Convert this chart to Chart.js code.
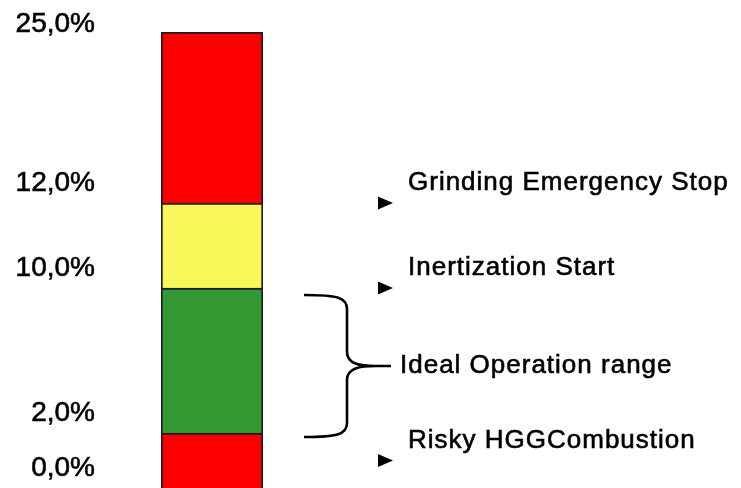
<!DOCTYPE html>
<html>
<head>
<meta charset="utf-8">
<script src="https://cdn.jsdelivr.net/npm/chart.js@4/dist/chart.umd.min.js"></script>
<style>
  html, body { margin: 0; padding: 0; background: #ffffff; }
  canvas { display: block; }
</style>
</head>
<body>
<canvas id="chart" width="741" height="488"></canvas>
<script>
// O2 concentration thresholds (%) bounding each operating zone
const thresholds = [0, 2, 10, 12, 25];
const tickLabels = ['0,0%', '2,0%', '10,0%', '12,0%', '25,0%'];
const zoneNames = ['Risky HGG combustion', 'Ideal operation', 'Inertization', 'Grinding emergency stop'];
const zoneColors = ['#ff0000', '#339933', '#f8f85a', '#ff0000'];

// Right-hand annotations: text and the level their arrow points at
const markerTexts = ['Grinding Emergency Stop', 'Inertization Start', 'Risky HGGCombustion'];
const markerLevels = [12, 10, 1];
const rangeText = 'Ideal Operation range';
const rangeLevels = [2, 10];

// Schematic (non-proportional) vertical scale: each threshold gets a fixed
// share of the column height, values in between are interpolated linearly.
const stopShares = [0, 0.1206, 0.4386, 0.625, 1];

class SchematicScale extends Chart.LinearScale {
  static id = 'schematic';
  static defaults = Chart.LinearScale.defaults;
  buildTicks() {
    return thresholds.map(v => ({ value: v }));
  }
  _shareOf(v) {
    const n = thresholds.length;
    if (v <= thresholds[0]) return stopShares[0];
    for (let i = 1; i < n; i++) {
      if (v <= thresholds[i]) {
        const t = (v - thresholds[i - 1]) / (thresholds[i] - thresholds[i - 1]);
        return stopShares[i - 1] + t * (stopShares[i] - stopShares[i - 1]);
      }
    }
    return stopShares[n - 1];
  }
  getPixelForValue(v) {
    if (v === null || v === undefined || isNaN(v)) return NaN;
    return this.getPixelForDecimal(this._shareOf(v));
  }
  getValueForPixel(p) {
    const d = this.getDecimalForPixel(p);
    for (let i = 1; i < stopShares.length; i++) {
      if (d <= stopShares[i]) {
        const t = (d - stopShares[i - 1]) / (stopShares[i] - stopShares[i - 1]);
        return thresholds[i - 1] + t * (thresholds[i] - thresholds[i - 1]);
      }
    }
    return thresholds[thresholds.length - 1];
  }
}
Chart.register(SchematicScale);

const FONT = '"Liberation Sans", Arial, sans-serif';

// Filled text with a hairline outline so the glyphs read a little heavier
function heavyText(ctx, text, x, y) {
  ctx.fillText(text, x, y);
  ctx.strokeText(text, x, y);
}

// Tick labels, arrows, annotation texts and the brace for the ideal range
const annotations = {
  id: 'annotations',
  afterDraw(chart) {
    const ctx = chart.ctx;
    const y = chart.scales.y;
    const area = chart.chartArea;
    ctx.save();
    ctx.fillStyle = '#000000';
    ctx.strokeStyle = '#000000';
    ctx.lineWidth = 0.6;

    // level labels left of the column
    ctx.font = '28px ' + FONT;
    ctx.textAlign = 'right';
    ctx.textBaseline = 'alphabetic';
    thresholds.forEach((v, i) => {
      const base = Math.max(y.getPixelForValue(v) - 12, area.top);
      heavyText(ctx, tickLabels[i], 95, base);
    });

    // arrows and their texts
    ctx.font = '26px ' + FONT;
    ctx.textAlign = 'left';
    if ('letterSpacing' in ctx) ctx.letterSpacing = '1px';
    markerLevels.forEach((v, i) => {
      const c = y.getPixelForValue(v);
      ctx.beginPath();
      ctx.moveTo(378, c - 6.5);
      ctx.lineTo(378, c + 6.5);
      ctx.lineTo(393, c);
      ctx.closePath();
      ctx.fill();
      heavyText(ctx, markerTexts[i], 408, c - 13);
    });

    // brace spanning the ideal operation range
    const yTop = y.getPixelForValue(rangeLevels[1]) + 7;
    const yBot = y.getPixelForValue(rangeLevels[0]) + 4;
    const yMid = (yTop + yBot) / 2;
    const xArm = 304, xV = 347, xTip = 376, xTail = 391;
    ctx.lineWidth = 2.6;
    ctx.lineCap = 'butt';
    ctx.lineJoin = 'round';
    ctx.beginPath();
    ctx.moveTo(xArm, yTop);
    ctx.bezierCurveTo(336, yTop, xV, yTop + 2, xV, yTop + 14);
    ctx.lineTo(xV, yMid - 14);
    ctx.bezierCurveTo(xV, yMid - 2, 360, yMid, xTip, yMid);
    ctx.lineTo(xTail, yMid);
    ctx.moveTo(xTip, yMid);
    ctx.bezierCurveTo(360, yMid, xV, yMid + 2, xV, yMid + 14);
    ctx.lineTo(xV, yBot - 14);
    ctx.bezierCurveTo(xV, yBot - 2, 336, yBot, xArm, yBot);
    ctx.stroke();

    ctx.lineWidth = 0.6;
    ctx.textBaseline = 'alphabetic';
    heavyText(ctx, rangeText, 400, yMid + 7);
    ctx.restore();
  }
};

const datasets = zoneNames.map((name, i) => ({
  label: name,
  data: [[thresholds[i], thresholds[i + 1]]],
  backgroundColor: zoneColors[i],
  borderColor: '#1e1e1e',
  borderWidth: 2,
  borderSkipped: 'start',
  grouped: false,
  barPercentage: 1,
  categoryPercentage: 1
}));

new Chart(document.getElementById('chart'), {
  type: 'bar',
  data: { labels: ['O2'], datasets },
  options: {
    responsive: false,
    animation: false,
    devicePixelRatio: 1,
    layout: { padding: { left: 161, right: 478, top: 32, bottom: 0 } },
    plugins: { legend: { display: false }, tooltip: { enabled: false } },
    scales: {
      x: { display: false },
      y: { type: 'schematic', min: 0, max: 25, display: false }
    }
  },
  plugins: [annotations]
});
</script>
</body>
</html>
